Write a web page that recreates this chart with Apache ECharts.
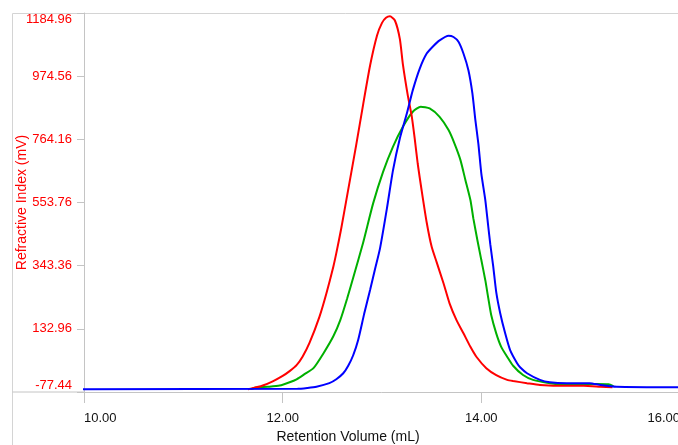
<!DOCTYPE html>
<html>
<head>
<meta charset="utf-8">
<script src="https://cdn.jsdelivr.net/npm/echarts@6/dist/echarts.min.js"></script>
<style>
  html, body { margin: 0; padding: 0; background: #fff; }
  #chart { width: 678px; height: 445px; }
</style>
</head>
<body>
<div id="chart"></div>
<script>
// tick values
const xTicks = [10, 12, 14, 16];
const yTicks = [-77.44, 132.96, 343.36, 553.76, 764.16, 974.56, 1184.96];

// [retention volume (mL), refractive index (mV)]
const redTrace = [
  [11.65, -68], [11.69, -66], [11.80, -56], [11.90, -42], [12.00, -24], [12.07, -8],
  [12.14, 12], [12.20, 40], [12.27, 86], [12.37, 173], [12.44, 251], [12.51, 340],
  [12.54, 385], [12.59, 468], [12.64, 560], [12.74, 745], [12.81, 880], [12.88, 1010],
  [12.95, 1110], [13.00, 1152], [13.04, 1169], [13.08, 1174], [13.13, 1160], [13.18, 1098],
  [13.21, 1015], [13.26, 910], [13.30, 840], [13.33, 765], [13.36, 682], [13.40, 592],
  [13.45, 487], [13.50, 406], [13.55, 355], [13.62, 284], [13.68, 218], [13.75, 162],
  [13.82, 118], [13.89, 73], [13.95, 40], [14.05, 2], [14.15, -21], [14.26, -37],
  [14.32, -41], [14.46, -48], [14.59, -54], [14.86, -57], [15.03, -57], [15.20, -60],
  [15.32, -62]
];
const greenTrace = [
  [11.68, -68], [11.72, -63], [11.85, -60], [11.97, -56], [12.07, -45], [12.14, -35],
  [12.22, -18], [12.31, 2], [12.41, 51], [12.51, 108], [12.58, 162], [12.65, 235],
  [12.72, 315], [12.81, 420], [12.91, 550], [13.01, 655], [13.11, 739], [13.21, 806],
  [13.31, 856], [13.39, 873], [13.48, 867], [13.58, 839], [13.67, 795], [13.73, 750],
  [13.79, 695], [13.84, 628], [13.89, 562], [13.92, 500], [13.96, 429], [14.00, 362],
  [14.04, 295], [14.07, 235], [14.10, 178], [14.15, 118], [14.20, 73], [14.26, 40],
  [14.32, 10], [14.42, -21], [14.52, -37], [14.69, -48], [14.86, -54], [14.96, -54],
  [15.05, -52], [15.16, -51], [15.28, -52], [15.33, -58]
];
const blueTrace = [
  [9.98, -68], [12.15, -67], [12.25, -64], [12.34, -60], [12.47, -48], [12.54, -35],
  [12.61, -15], [12.66, 10], [12.71, 45], [12.76, 96], [12.82, 182], [12.88, 262],
  [12.93, 332], [12.98, 401], [13.05, 535], [13.11, 660], [13.18, 768], [13.25, 850],
  [13.31, 928], [13.38, 1000], [13.45, 1050], [13.52, 1076], [13.58, 1094], [13.67, 1109],
  [13.72, 1105], [13.77, 1089], [13.82, 1050], [13.87, 994], [13.91, 917], [13.94, 828],
  [13.97, 750], [14.00, 650], [14.04, 562], [14.07, 473], [14.09, 415], [14.12, 340],
  [14.15, 255], [14.19, 185], [14.24, 118], [14.29, 62], [14.36, 18], [14.39, 5],
  [14.46, -15], [14.59, -37], [14.69, -45], [14.86, -48], [15.09, -48], [15.20, -54],
  [15.36, -60], [16.10, -62]
];

// y ticks don't sit on a multiple of the step, so the axis runs from 0 and labels add the offset back
let yBase = yTicks[0];
let yStep = yTicks[1] - yTicks[0];
let shift = (arr) => arr.map(p => [p[0], p[1] - yBase]);

let font = 'Liberation Sans, Arial, sans-serif';
let frame = '#d4d4d4';

let trace = (name, data, color, z) => ({
  name: name, type: 'line', data: shift(data), showSymbol: false, z: z,
  smooth: 0.2,
  lineStyle: { color: color, width: 2 }, itemStyle: { color: color }
});

let chart = echarts.init(document.getElementById('chart'));
chart.setOption({
  animation: false,
  backgroundColor: '#fff',
  grid: { left: 84, top: 13, width: 596, height: 379, outerBoundsMode: 'none' },
  xAxis: {
    type: 'value',
    min: xTicks[0],
    max: xTicks[xTicks.length - 1],
    interval: xTicks[1] - xTicks[0],
    name: 'Retention Volume (mL)',
    nameLocation: 'middle',
    nameGap: 38,
    nameMoveOverlap: false,
    nameTextStyle: { color: '#111', fontSize: 14, fontFamily: font, padding: [0, 68, 0, 0] },
    axisLine: { lineStyle: { color: '#c4c4c4', width: 1 } },
    axisTick: { show: true, length: 11, lineStyle: { color: '#c4c4c4' } },
    axisLabel: {
      color: '#111', fontSize: 13, fontFamily: font, margin: 20,
      alignMinLabel: 'left', alignMaxLabel: 'right',
      formatter: v => v.toFixed(2)
    },
    splitLine: { show: false }
  },
  yAxis: {
    type: 'value',
    min: 0,
    max: yTicks[yTicks.length - 1] - yBase,
    interval: yStep,
    name: 'Refractive Index (mV)',
    nameLocation: 'middle',
    nameGap: 55,
    nameMoveOverlap: false,
    nameTextStyle: { color: '#ff0000', fontSize: 14, fontFamily: font },
    axisLine: { show: true, lineStyle: { color: '#c4c4c4', width: 1 } },
    axisTick: { show: true, length: 7, lineStyle: { color: '#c4c4c4' } },
    axisLabel: {
      color: '#ff0000', fontSize: 13, fontFamily: font, margin: 12,
      verticalAlignMinLabel: 'bottom', verticalAlignMaxLabel: 'top',
      formatter: v => (v + yBase).toFixed(2)
    },
    splitLine: { show: false }
  },
  graphic: [
    // outer frame of the plot window
    { type: 'line', shape: { x1: 12.5, y1: 13.5, x2: 678, y2: 13.5 }, style: { stroke: frame, lineWidth: 1 } },
    { type: 'line', shape: { x1: 12.5, y1: 13.5, x2: 12.5, y2: 445 }, style: { stroke: frame, lineWidth: 1 } },
    { type: 'line', shape: { x1: 12.5, y1: 392, x2: 84, y2: 392 }, style: { stroke: '#c4c4c4', lineWidth: 1 } }
  ],
  series: [
    trace('green', greenTrace, '#00b000', 2),
    trace('red', redTrace, '#ff0000', 3),
    trace('blue', blueTrace, '#0000ff', 4)
  ]
});
</script>
</body>
</html>
